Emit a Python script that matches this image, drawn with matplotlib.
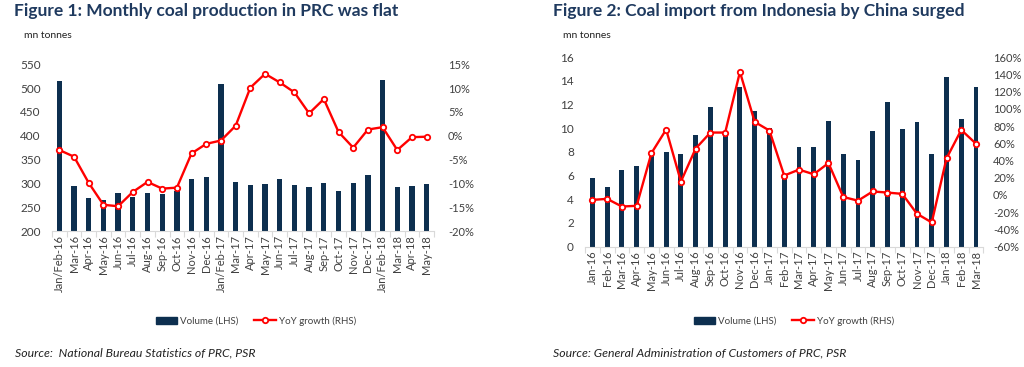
import matplotlib
matplotlib.use("Agg")
import matplotlib.pyplot as plt
import numpy as np
from matplotlib.lines import Line2D
from matplotlib.patches import Patch
from matplotlib.ticker import FuncFormatter, FixedLocator

plt.rcParams['font.family'] = ['Lato', 'DejaVu Sans']

# ---- Figure 1 data ----
cats1 = ["Jan/Feb-16", "Mar-16", "Apr-16", "May-16", "Jun-16", "Jul-16", "Aug-16",
         "Sep-16", "Oct-16", "Nov-16", "Dec-16", "Jan/Feb-17", "Mar-17", "Apr-17",
         "May-17", "Jun-17", "Jul-17", "Aug-17", "Sep-17", "Oct-17", "Nov-17",
         "Dec-17", "Jan/Feb-18", "Mar-18", "Apr-18", "May-18"]
vol1 = [514, 295, 270, 266, 279, 272, 279, 278, 284, 310, 313, 509, 302, 296,
        299, 310, 296, 293, 300, 285, 301, 317, 517, 293, 295, 299]
yoy1 = [-3.0, -4.4, -9.9, -14.5, -14.8, -11.8, -9.7, -11.1, -10.9, -3.7, -1.7,
        -1.0, 2.1, 10.1, 13.0, 11.2, 9.1, 4.7, 7.7, 0.8, -2.5, 1.3, 1.8, -3.0,
        -0.3, -0.2]

# ---- Figure 2 data ----
cats2 = ["Jan-16", "Feb-16", "Mar-16", "Apr-16", "May-16", "Jun-16", "Jul-16",
         "Aug-16", "Sep-16", "Oct-16", "Nov-16", "Dec-16", "Jan-17", "Feb-17",
         "Mar-17", "Apr-17", "May-17", "Jun-17", "Jul-17", "Aug-17", "Sep-17",
         "Oct-17", "Nov-17", "Dec-17", "Jan-18", "Feb-18", "Mar-18"]
vol2 = [5.8, 5.0, 6.5, 6.8, 7.8, 8.0, 7.8, 9.4, 11.8, 9.6, 13.5, 11.5, 10.0,
        6.0, 8.45, 8.45, 10.6, 7.8, 7.3, 9.8, 12.2, 9.9, 10.5, 7.8, 14.35, 10.8, 13.45]
yoy2 = [-5.8, -4.6, -13.5, -12.7, 48.5, 76.0, 15.5, 53.9, 72.5, 72.5, 143.0,
        84.9, 74.8, 22.5, 29.4, 24.0, 37.0, -2.4, -6.7, 4.0, 2.7, 1.2, -22.0,
        -32.0, 42.5, 75.5, 59.5]

BAR = '#0D2F4F'
RED = '#FF0000'
TITLE = '#1F3A5F'
TXT = '#404040'

fig = plt.figure(figsize=(10.24, 3.67), dpi=100)


def make_chart(rect, cats, vol, yoy, ylim, yticks, y2lim, y2ticks, barw, pad2):
    ax = fig.add_axes(rect)
    x = np.arange(len(cats))
    ax.bar(x, vol, width=barw, color=BAR, zorder=2)
    ax.set_xlim(-0.5, len(cats) - 0.5)
    ax.set_ylim(*ylim)
    ax.set_yticks(yticks)
    ax.set_xticks(x)
    ax.set_xticklabels(cats, rotation=90, fontsize=8, color=TXT)
    ax.xaxis.set_minor_locator(FixedLocator(np.arange(-0.5, len(cats), 1)))
    ax.tick_params(axis='x', which='major', length=0, pad=3)
    ax.tick_params(axis='x', which='minor', length=4, color='#D9D9D9', width=0.8)
    ax.tick_params(axis='y', length=0, labelsize=8.5, labelcolor=TXT, pad=8)
    for s in ['top', 'right', 'left']:
        ax.spines[s].set_visible(False)
    ax.spines['bottom'].set_color('#D9D9D9')
    ax.spines['bottom'].set_linewidth(0.8)
    ax2 = ax.twinx()
    ax2.plot(x, yoy, color=RED, lw=1.7, marker='o', ms=3.9,
             mfc='white', mec=RED, mew=1.3, zorder=3)
    ax2.set_ylim(*y2lim)
    ax2.set_yticks(y2ticks)
    ax2.yaxis.set_major_formatter(FuncFormatter(lambda v, p: f"{v:.0f}%"))
    ax2.tick_params(axis='y', length=0, labelsize=8, labelcolor=TXT, pad=pad2)
    for s in ['top', 'right', 'left', 'bottom']:
        ax2.spines[s].set_visible(False)
    return ax, ax2


make_chart([52 / 1024, 1 - 231 / 367, 382 / 1024, 166.7 / 367],
           cats1, vol1, yoy1, (200, 550), np.arange(200, 551, 50),
           (-20, 15), np.arange(-20, 16, 5), 0.36, 10)
make_chart([585 / 1024, 1 - 246.5 / 367, 398.4 / 1024, 189.2 / 367],
           cats2, vol2, yoy2, (0, 16), np.arange(0, 17, 2),
           (-60, 160), np.arange(-60, 161, 20), 0.33, 7)

# titles
fig.text(14 / 1024, 1 - 11 / 367, "Figure 1: Monthly coal production in PRC was flat",
         fontsize=12.5, fontweight='bold', color=TITLE, va='center', ha='left')
fig.text(553 / 1024, 1 - 11 / 367, "Figure 2: Coal import from Indonesia by China surged",
         fontsize=12.5, fontweight='bold', color=TITLE, va='center', ha='left')
fig.text(24 / 1024, 1 - 36 / 367, "mn tonnes", fontsize=7.5, color='#222222',
         va='center', ha='left')
fig.text(563 / 1024, 1 - 36 / 367, "mn tonnes", fontsize=7.5, color='#222222',
         va='center', ha='left')

# legends
handles = [Patch(facecolor=BAR, edgecolor=BAR),
           Line2D([], [], color=RED, lw=1.7, marker='o', ms=3.9, mfc='white',
                  mec=RED, mew=1.3)]
labels = ["Volume (LHS)", "YoY growth (RHS)"]
for cx in (256 / 1024, 794 / 1024):
    fig.legend(handles, labels, loc='center', bbox_to_anchor=(cx, 1 - 321 / 367),
               ncol=2, frameon=False, fontsize=7, handlelength=2.2,
               handleheight=0.7, columnspacing=1.6, handletextpad=0.3,
               labelcolor=TXT)

# sources
fig.text(15 / 1024, 1 - 353 / 367, "Source:  National Bureau Statistics of PRC, PSR",
         fontsize=8.8, fontstyle='italic', color='#222222', va='center', ha='left')
fig.text(553 / 1024, 1 - 353 / 367, "Source: General Administration of Customers of PRC, PSR",
         fontsize=8.8, fontstyle='italic', color='#222222', va='center', ha='left')

fig.savefig("out.png", dpi=100)
